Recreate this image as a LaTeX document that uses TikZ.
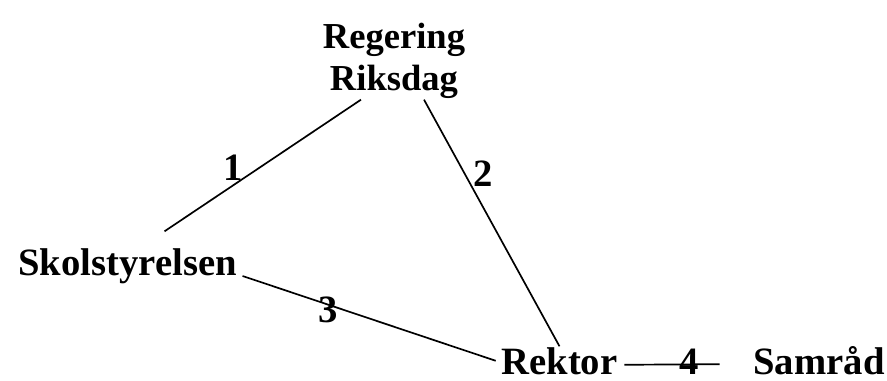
\documentclass[tikz,border=0pt]{standalone}
\usepackage{fontspec}
\setmainfont{Liberation Serif}
\usetikzlibrary{calc}

\begin{document}
\begin{tikzpicture}[x=0.025cm, y=-0.025cm, line width=1.2pt,
  every node/.style={font=\fontsize{27.5}{33}\selectfont\bfseries, inner sep=0pt},
  num/.style={font=\fontsize{27.5}{33}\selectfont\bfseries}]
  \useasboundingbox (0,0) rectangle (887,381);

  % Levels
  \node[align=center, font=\fontsize{26}{30}\selectfont\bfseries] (reg) at (394,61) {Regering\\Riksdag};
  \node[anchor=base] (skol) at (127.5,275) {Skolstyrelsen};
  \node[anchor=base] (rektor) at (559.5,374) {Rektor};
  \node[anchor=base] (samrad) at (819,374) {Samråd};

  % Links
  \draw ($(reg.south)+(-33,0)$) -- node[num, pos=.62, anchor=south, xshift=-0.15cm] {1} ($(skol.north)+(37,-16)$);
  \draw ($(reg.south)+(30,0)$) -- node[num, pos=.3, anchor=west, xshift=0.2cm] {2} (rektor.north);
  \draw ($(skol.base east)+(5,1)$) -- node[num, pos=.34, yshift=-0.13cm] {3} ($(rektor.west)+(-5,0)$);
  \draw ($(rektor.east)+(6,4)$) -- node[num, pos=.68, yshift=0.07cm] {4} ($(samrad.west)+(-33,4)$);
\end{tikzpicture}
\end{document}
